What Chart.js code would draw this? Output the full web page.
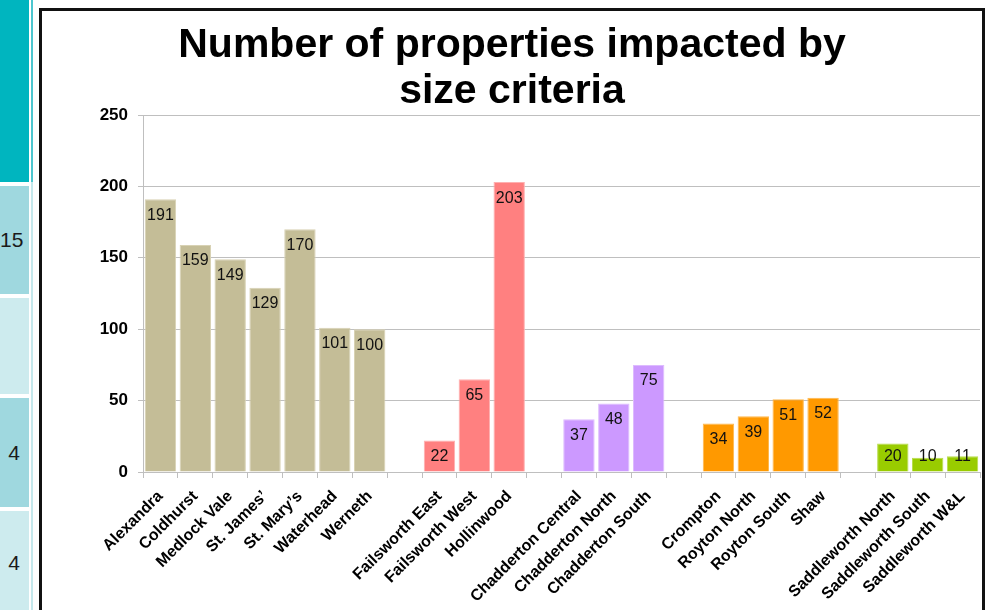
<!DOCTYPE html>
<html>
<head>
<meta charset="utf-8">
<script src="https://cdn.jsdelivr.net/npm/chart.js@4.4.1/dist/chart.umd.min.js"></script>
<style>
  html, body { margin: 0; padding: 0; background: #fff; overflow: hidden; }
  body { width: 997px; height: 610px; position: relative; font-family: 'Liberation Sans', Arial, sans-serif; }
  .cell { position: absolute; left: 0; width: 29px; box-sizing: border-box; text-align: right; padding-right: 9px; font-size: 21px; color: #1a1a1a; }
  #frame { position: absolute; left: 39px; top: 8px; width: 940px; height: 640px; border: 3px solid #111; pointer-events: none; }
  #title { position: absolute; left: 42px; width: 940px; top: 20px; text-align: center; font-weight: bold; font-size: 41px; line-height: 46px; color: #000; }
  #wrap { position: absolute; left: 0; top: 0; width: 997px; height: 610px; }
</style>
</head>
<body>
<div class="cell" style="top:0;height:182px;background:#00b5bf"></div>
<div class="cell" style="top:186px;height:108px;background:#9fd8df;line-height:108px">15</div>
<div class="cell" style="top:298px;height:96px;background:#cdebee"></div>
<div class="cell" style="top:398px;height:109px;background:#9fd8df;line-height:109px">4</div>
<div class="cell" style="top:511px;height:110px;background:#cdebee;line-height:104px">4</div>
<div style="position:absolute;left:31px;top:0;width:2px;height:182px;background:#4cc6cf"></div>
<div style="position:absolute;left:31px;top:182px;width:2px;height:428px;background:#c4e8ec"></div>

<div id="wrap"><canvas id="chart"></canvas></div>
<div id="title">Number of properties impacted by<br>size criteria</div>
<div id="frame"></div>

<script>
// wards, grouped by area (blank slots are the gaps between groups)
const wards = ['Alexandra', 'Coldhurst', 'Medlock Vale', 'St. James\u2019', 'St. Mary\u2019s', 'Waterhead', 'Werneth', '',
  'Failsworth East', 'Failsworth West', 'Hollinwood', '',
  'Chadderton Central', 'Chadderton North', 'Chadderton South', '',
  'Crompton', 'Royton North', 'Royton South', 'Shaw', '',
  'Saddleworth North', 'Saddleworth South', 'Saddleworth W&L'];
const properties = [191, 159, 149, 129, 170, 101, 100, null,
  22, 65, 203, null,
  37, 48, 75, null,
  34, 39, 51, 52, null,
  20, 10, 11];
const areas = ['Oldham', 'Oldham', 'Oldham', 'Oldham', 'Oldham', 'Oldham', 'Oldham', '',
  'Failsworth', 'Failsworth', 'Failsworth', '',
  'Chadderton', 'Chadderton', 'Chadderton', '',
  'Royton', 'Royton', 'Royton', 'Royton', '',
  'Saddleworth', 'Saddleworth', 'Saddleworth'];
const yTicks = [0, 50, 100, 150, 200, 250];

const areaFill = { Oldham: '#c4bd97', Failsworth: '#ff8080', Chadderton: '#cc99ff', Royton: '#ff9900', Saddleworth: '#99cc00', '': '#fff' };
const areaEdge = { Oldham: '#d8d2b4', Failsworth: '#ffb0b0', Chadderton: '#ddbbff', Royton: '#ffb84d', Saddleworth: '#b8dd4d', '': '#fff' };

const valueLabels = {
  id: 'valueLabels',
  afterDatasetsDraw(chart) {
    const ctx = chart.ctx;
    const meta = chart.getDatasetMeta(0);
    ctx.save();
    ctx.font = '16px "Liberation Sans", Arial, sans-serif';
    ctx.fillStyle = '#111';
    ctx.textAlign = 'center';
    ctx.textBaseline = 'middle';
    meta.data.forEach((bar, i) => {
      const v = properties[i];
      if (v == null) return;
      const y = Math.min(bar.y + 16, bar.base - 15);
      ctx.fillText(String(v), bar.x, y);
    });
    ctx.restore();
  }
};

const ctx = document.getElementById('chart').getContext('2d');
new Chart(ctx, {
  type: 'bar',
  data: {
    labels: wards,
    datasets: [{
      data: properties,
      backgroundColor: areas.map(a => areaFill[a]),
      borderColor: areas.map(a => areaEdge[a]),
      borderWidth: 1,
      barPercentage: 0.9,
      categoryPercentage: 1
    }]
  },
  options: {
    responsive: true,
    maintainAspectRatio: false,
    animation: false,
    layout: { padding: { top: 115, right: 17, left: 0, bottom: 0 } },
    plugins: {
      legend: { display: false },
      tooltip: { enabled: false }
    },
    scales: {
      x: {
        afterFit: (scale) => { scale.height = 610 - 472; },
        grid: { offset: true, drawOnChartArea: false, color: '#bfbfbf', tickLength: 6 },
        border: { color: '#bfbfbf' },
        ticks: {
          color: '#000',
          minRotation: 45,
          maxRotation: 45,
          autoSkip: false,
          padding: 9,
          font: { family: 'Liberation Sans', weight: 'bold', size: 16 }
        }
      },
      y: {
        min: 0,
        max: 250,
        afterFit: (scale) => { scale.width = 143; },
        afterBuildTicks: (scale) => { scale.ticks = yTicks.map(v => ({ value: v })); },
        grid: { color: '#bfbfbf', tickLength: 5 },
        border: { color: '#bfbfbf' },
        ticks: {
          color: '#000',
          padding: 10,
          font: { family: 'Liberation Sans', weight: 'bold', size: 17 }
        }
      }
    }
  },
  plugins: [valueLabels]
});
</script>
</body>
</html>
